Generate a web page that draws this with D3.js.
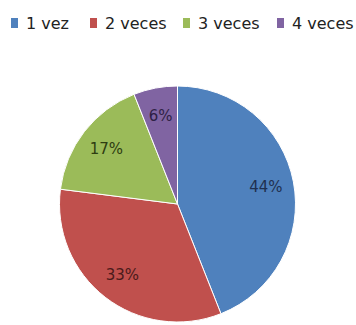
<!DOCTYPE html>
<html>
<head>
<meta charset="utf-8">
<script src="https://cdn.jsdelivr.net/npm/d3@7"></script>
<style>
  html, body { margin: 0; padding: 0; background: #fff; }
  svg { display: block; }
</style>
</head>
<body>
<svg id="chart" width="356" height="325"></svg>
<script>
// Frequency categories and their share of responses (%)
const categories = ["1 vez", "2 veces", "3 veces", "4 veces"];
const values = [44, 33, 17, 6];
const colors = ["#4F81BD", "#C0504D", "#9BBB59", "#8064A2"];
const labelColors = ["#1F3050", "#4A1A1A", "#2E3D12", "#2E1F45"];

const svg = d3.select("#chart");

const cx = 177.5, cy = 204, radius = 118, labelRadius = 90;

const pie = d3.pie().value(d => d).sort(null);
const arc = d3.arc().innerRadius(0).outerRadius(radius);
const labelArc = d3.arc().innerRadius(labelRadius).outerRadius(labelRadius);

const g = svg.append("g").attr("transform", `translate(${cx},${cy})`);
const arcs = pie(values);

g.selectAll("path.slice")
  .data(arcs)
  .enter().append("path")
  .attr("class", "slice")
  .attr("d", arc)
  .attr("fill", (d, i) => colors[i])
  .attr("stroke", "#fff")
  .attr("stroke-width", 1);

g.selectAll("text.pct")
  .data(arcs)
  .enter().append("text")
  .attr("class", "pct")
  .attr("transform", d => `translate(${labelArc.centroid(d)})`)
  .attr("text-anchor", "middle")
  .attr("dy", "0.35em")
  .attr("font-family", "DejaVu Sans, Verdana, sans-serif")
  .attr("font-size", 15)
  .attr("fill", (d, i) => labelColors[i])
  .text(d => d.data + "%");

// Legend along the top
const legendX = [11, 90, 183, 277];
const legend = svg.append("g").attr("class", "legend");
const items = legend.selectAll("g.item")
  .data(categories)
  .enter().append("g")
  .attr("class", "item")
  .attr("transform", (d, i) => `translate(${legendX[i]},29)`);

items.append("rect")
  .attr("x", 0).attr("y", -11)
  .attr("width", 7).attr("height", 10)
  .attr("fill", (d, i) => colors[i]);

items.append("text")
  .attr("x", 15)
  .attr("font-family", "DejaVu Sans, Verdana, sans-serif")
  .attr("font-size", 16)
  .attr("fill", "#222")
  .text(d => d);
</script>
</body>
</html>
